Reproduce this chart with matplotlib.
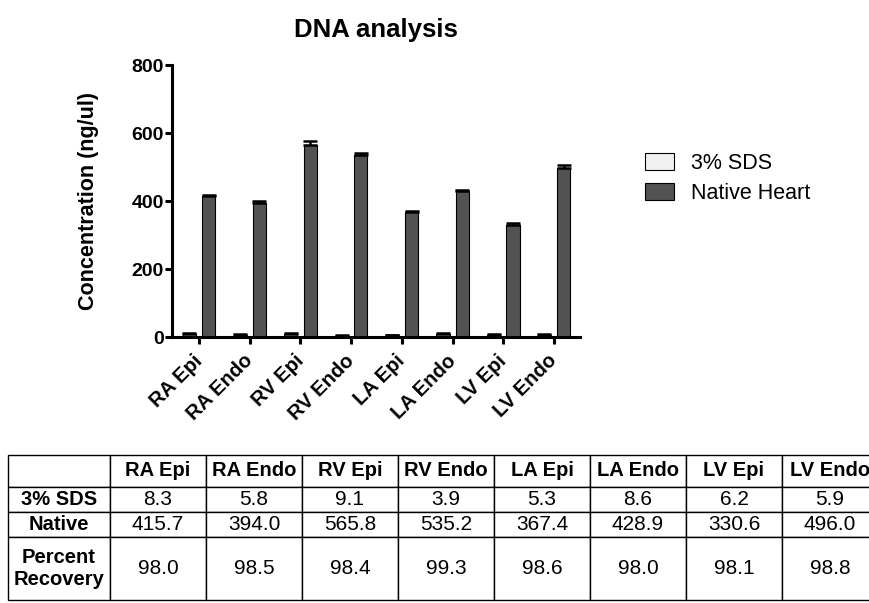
import numpy as np
import matplotlib
matplotlib.use("Agg")
import matplotlib.pyplot as plt
from matplotlib.patches import Patch

plt.rcParams['font.family'] = ['Liberation Sans', 'DejaVu Sans']

regions = ['RA Epi', 'RA Endo', 'RV Epi', 'RV Endo', 'LA Epi', 'LA Endo', 'LV Epi', 'LV Endo']
sds = [8.3, 5.8, 9.1, 3.9, 5.3, 8.6, 6.2, 5.9]
native = [415.7, 394.0, 565.8, 535.2, 367.4, 428.9, 330.6, 496.0]
sds_err = [3, 2, 3, 1, 2, 3, 2, 2]
native_err = [3, 5, 10, 5, 3, 4, 5, 9]
recovery = [98.0, 98.5, 98.4, 99.3, 98.6, 98.0, 98.1, 98.8]
series_names = ['3% SDS', 'Native Heart']
row_names = ['3% SDS', 'Native', 'Percent\nRecovery']

W, H = 870, 603
fig = plt.figure(figsize=(W / 100, H / 100), dpi=100)

ax = fig.add_axes([172 / W, 1 - 337 / H, (580 - 172) / W, (337 - 65) / H])
x = np.arange(len(regions))
bw = 0.26
zeros = np.zeros(len(regions))
ax.bar(x - 0.19, sds, bw, color='#f0f0f0', edgecolor='black', linewidth=0.8, zorder=2)
ax.bar(x + 0.19, native, bw, color='#525252', edgecolor='black', linewidth=0.8, zorder=2)
ax.errorbar(x - 0.19, sds, yerr=[zeros, sds_err], fmt='none', ecolor='black',
            elinewidth=1.8, capsize=5, capthick=1.8, zorder=3)
ax.errorbar(x + 0.19, native, yerr=[zeros, native_err], fmt='none', ecolor='black',
            elinewidth=1.8, capsize=5, capthick=1.8, zorder=3)

ax.set_xlim(-0.533, 7.51)
ax.set_ylim(0, 800)
ax.set_yticks([0, 200, 400, 600, 800])
ax.set_xticks(x)
ax.set_xticklabels(regions, rotation=45, ha='right', va='center', rotation_mode='anchor',
                   fontsize=14.5, fontweight='bold')
for lab in ax.get_yticklabels():
    lab.set_fontweight('bold')
    lab.set_fontsize(14)
ax.tick_params(axis='both', width=2.2, length=5, direction='out')
ax.tick_params(axis='y', pad=1)
ax.tick_params(axis='x', pad=10)
for s in ['top', 'right']:
    ax.spines[s].set_visible(False)
for s in ['left', 'bottom']:
    ax.spines[s].set_linewidth(2.2)
ax.set_ylabel('Concentration (ng/ul)', fontsize=15.5, fontweight='bold')
ax.yaxis.set_label_coords(-0.18, 0.5)
ax.set_title('DNA analysis', fontsize=18.5, fontweight='bold', pad=20)

handles = [Patch(facecolor='#f0f0f0', edgecolor='black', linewidth=0.8),
           Patch(facecolor='#525252', edgecolor='black', linewidth=0.8)]
fig.legend(handles, series_names, loc='upper left', bbox_to_anchor=(645 / W, 1 - 153 / H),
           frameon=False, fontsize=15.5, handlelength=1.35, handleheight=0.8,
           handletextpad=0.8, borderpad=0, borderaxespad=0, labelspacing=0.42)

# table underneath
top, bottom = 455, 600
tax = fig.add_axes([8 / W, 1 - bottom / H, (878 - 8) / W, (bottom - top) / H])
tax.axis('off')
cells = [[''] + regions,
         [row_names[0]] + ['%.1f' % v for v in sds],
         [row_names[1]] + ['%.1f' % v for v in native],
         [row_names[2]] + ['%.1f' % v for v in recovery]]
col_w = [102] + [96] * 8
tab = tax.table(cellText=cells, colWidths=[c / sum(col_w) for c in col_w],
                cellLoc='center', bbox=[0, 0, 1, 1])
tab.auto_set_font_size(False)
row_h = [32, 25, 25, 63]
for (r, c), cell in tab.get_celld().items():
    cell.set_height(row_h[r] / sum(row_h))
    cell.set_linewidth(1.0)
    cell.set_edgecolor('black')
    t = cell.get_text()
    if r == 0 or c == 0:
        t.set_fontweight('bold')
        t.set_fontsize(14.5)
    else:
        t.set_fontsize(15)

fig.savefig('out.png', dpi=100)
